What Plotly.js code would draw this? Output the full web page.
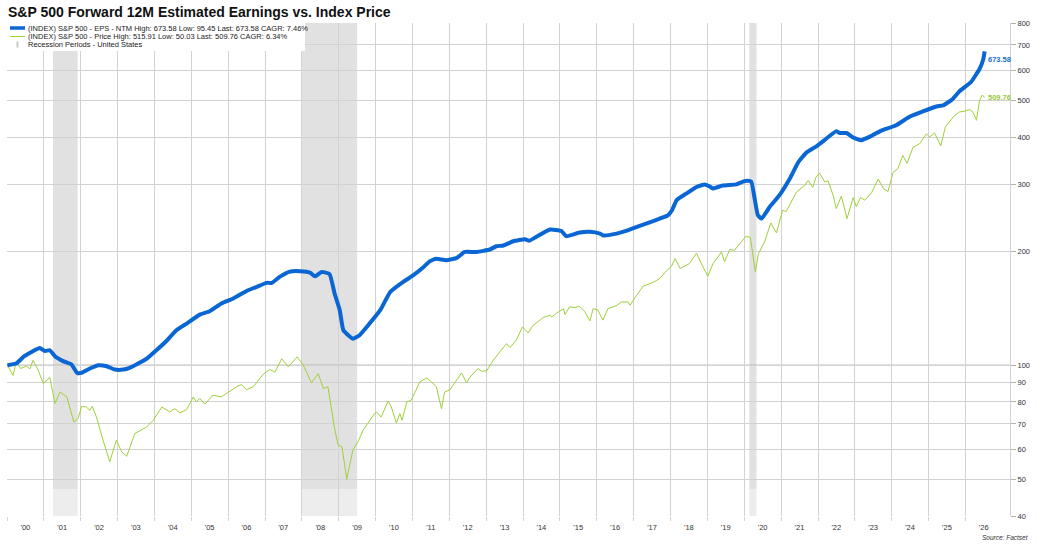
<!DOCTYPE html>
<html>
<head>
<meta charset="utf-8">
<script src="https://cdn.plot.ly/plotly-3.0.1.min.js"></script>
<style>html,body{margin:0;padding:0;background:#fff;}#chart{width:1038px;height:550px;}</style>
</head>
<body>
<div id="chart"></div>
<script>
// ---- Data (indexed to 100 at Jan 2000) ----
const epsDates = ['2000-01-05','2000-04-01','2000-06-20','2000-09-01','2000-11-20','2001-01-10','2001-03-01','2001-04-20','2001-07-10','2001-10-01','2001-11-25','2002-01-10','2002-04-01','2002-06-25','2002-09-15','2002-12-05','2003-02-25','2003-05-05','2003-07-10','2003-10-15','2004-01-20','2004-05-01','2004-08-05','2004-11-15','2005-03-25','2005-07-01','2005-10-25','2006-02-20','2006-07-01','2006-10-10','2007-01-15','2007-03-10','2007-05-25','2007-09-05','2007-12-15','2008-03-20','2008-05-10','2008-07-15','2008-10-01','2008-11-20','2009-01-10','2009-02-15','2009-05-20','2009-07-25','2009-11-01','2010-02-15','2010-05-25','2010-10-01','2011-01-10','2011-04-15','2011-06-20','2011-08-25','2011-12-01','2012-03-15','2012-06-01','2012-09-25','2013-02-05','2013-04-10','2013-06-20','2013-09-25','2014-01-20','2014-03-01','2014-05-10','2014-09-25','2015-01-15','2015-03-05','2015-07-15','2015-10-25','2016-02-01','2016-03-05','2016-07-15','2016-10-25','2017-02-01','2017-05-10','2017-09-15','2017-12-05','2018-01-15','2018-03-01','2018-06-05','2018-09-15','2018-12-05','2019-01-20','2019-02-25','2019-06-01','2019-10-15','2019-11-20','2020-01-25','2020-03-10','2020-04-10','2020-05-15','2020-06-20','2020-09-10','2020-12-15','2021-03-25','2021-06-20','2021-09-10','2021-12-15','2022-03-25','2022-07-01','2022-08-05','2022-10-10','2022-12-15','2023-03-05','2023-06-15','2023-09-20','2024-02-15','2024-06-25','2024-11-05','2025-03-20','2025-05-25','2025-08-30','2025-11-01','2026-02-25','2026-05-20','2026-06-25','2026-07-10'];
const epsValues = [100,101,105.6,108.4,111,109,109.5,105.6,102.5,100.4,95.45,95.5,98,100,99.4,97.4,97.4,98.6,100.6,104,109.5,116,123.7,128.8,136,138.8,145.5,150,157,161,164.9,165,171,176.6,177,175.5,171.6,176.3,174,154.6,139.7,123.7,117.5,120,128.8,139.7,156,165.9,172.8,181,188,191,189.3,192,199,199,202,206,207,212.4,215,213,218,228,226,219,224,225,222.5,220,222.5,226.6,231.8,236.6,243.7,248.7,256.5,272.6,283.7,295.4,300,296.6,292.7,298,300,303,306.6,305,278,248.7,243.7,262,281,310,343.6,364.5,378,396.5,414.7,410,410,398.8,392.5,403,416,430,452.4,467.6,481.8,484.8,505,528,559,605,640,673.58];

const priceDates = ['2000-01-05','2000-03-01','2000-04-01','2000-05-15','2000-07-10','2000-08-15','2000-09-15','2000-11-05','2000-12-25','2001-03-01','2001-04-20','2001-06-10','2001-08-15','2001-10-25','2001-12-05','2002-01-10','2002-02-25','2002-04-01','2002-04-25','2002-06-05','2002-08-10','2002-10-15','2002-12-20','2003-02-10','2003-04-01','2003-06-20','2003-10-15','2003-12-20','2004-03-15','2004-06-01','2004-07-20','2004-09-10','2004-11-15','2005-01-20','2005-02-20','2005-03-25','2005-05-15','2005-08-01','2005-10-25','2006-01-01','2006-03-25','2006-05-10','2006-07-01','2006-09-05','2006-12-15','2007-02-15','2007-04-10','2007-06-15','2007-08-20','2007-11-15','2008-01-15','2008-04-05','2008-06-10','2008-08-01','2008-09-15','2008-11-20','2008-12-25','2009-02-01','2009-03-20','2009-05-20','2009-07-10','2009-08-30','2009-11-01','2009-12-20','2010-01-10','2010-02-25','2010-05-05','2010-06-05','2010-07-25','2010-08-28','2010-09-20','2010-11-05','2010-12-20','2011-03-15','2011-05-25','2011-08-25','2011-10-15','2011-11-15','2012-01-05','2012-05-01','2012-06-20','2012-07-25','2012-10-10','2012-11-15','2013-01-05','2013-03-10','2013-05-15','2013-07-20','2013-08-25','2013-10-25','2013-12-25','2014-02-20','2014-04-10','2014-07-20','2014-09-25','2014-10-10','2014-11-25','2015-02-05','2015-02-20','2015-04-05','2015-05-25','2015-07-15','2015-09-01','2015-10-25','2015-11-25','2016-01-10','2016-03-01','2016-04-20','2016-07-10','2016-09-01','2016-11-05','2016-11-25','2017-01-30','2017-04-05','2017-07-15','2017-09-15','2017-11-20','2018-01-10','2018-02-15','2018-04-05','2018-07-05','2018-09-15','2018-11-05','2019-01-05','2019-02-25','2019-05-20','2019-06-20','2019-08-10','2019-09-25','2020-01-20','2020-03-01','2020-04-20','2020-05-20','2020-07-20','2020-09-20','2020-11-15','2021-01-15','2021-02-20','2021-06-01','2021-08-20','2021-09-25','2021-11-10','2021-12-10','2022-01-15','2022-03-10','2022-04-10','2022-05-30','2022-07-01','2022-08-20','2022-10-15','2022-12-15','2023-01-15','2023-02-25','2023-04-10','2023-06-15','2023-08-20','2023-10-10','2023-11-25','2024-01-15','2024-03-01','2024-04-20','2024-06-01','2024-07-30','2024-10-05','2024-12-10','2025-01-10','2025-03-01','2025-05-01','2025-06-15','2025-09-01','2025-11-01','2025-12-25','2026-02-10','2026-03-15','2026-04-20','2026-05-20','2026-06-15','2026-07-10'];
const priceValues = [100,94,102,98,99.4,97.8,103,97,89.5,92.8,79.2,85,82.5,70.8,72.3,77.9,77.6,76,77.9,73,63.4,55.6,63.4,59.1,57.5,66,68.7,71.6,77.6,75.3,76.8,74.8,76.4,82.5,80,81.7,78.9,83.3,82.5,85,87.7,88.9,86.2,87.7,94.7,97.4,96,104,99,105.2,100,89.8,95,86.8,87.7,68,61.5,60.9,50.03,59.7,62.8,67.4,71.6,74.5,75.3,73,80.5,77.6,70.4,74.5,71.6,80,80.9,90.4,92.6,87.7,76.8,85,86,95.4,89.8,93.1,98,96.4,96.6,103,108.4,114,111.3,116.4,126.2,121.7,127.5,133.6,135.5,134,137,141,136,142.5,142,143,138.8,130.9,141,140,131.5,141,143.5,146.9,146.9,144,153,161.6,165.6,169.3,177.4,182.4,191.3,180,185.3,197.6,184.6,171.7,185.3,199,187.5,202,201,219,217.3,176.3,196.8,211.5,237.4,223.5,256.5,254.4,286.5,298,307.6,294.7,312.6,321.6,304.3,306.6,281,259,279.5,243.7,276.8,262,276.8,272.6,285,310,292.7,287.4,323,330,357.6,341,375.6,384.5,408,400,410,379,425,452,466,468,473,466,443,500,515.91,509.76];

const recessionStarts = ['2001-04-01','2008-01-01','2020-02-20'];
const recessionEnds   = ['2001-12-01','2009-07-01','2020-05-01'];

const yearTickVals = ['2000-07-01','2001-07-01','2002-07-01','2003-07-01','2004-07-01','2005-07-01','2006-07-01','2007-07-01','2008-07-01','2009-07-01','2010-07-01','2011-07-01','2012-07-01','2013-07-01','2014-07-01','2015-07-01','2016-07-01','2017-07-01','2018-07-01','2019-07-01','2020-07-01','2021-07-01','2022-07-01','2023-07-01','2024-07-01','2025-07-01','2026-07-01'];
const yearTickText = ["'00","'01","'02","'03","'04","'05","'06","'07","'08","'09","'10","'11","'12","'13","'14","'15","'16","'17","'18","'19","'20","'21","'22","'23","'24","'25","'26"];
const yearBounds = ['2000-01-01','2001-01-01','2002-01-01','2003-01-01','2004-01-01','2005-01-01','2006-01-01','2007-01-01','2008-01-01','2009-01-01','2010-01-01','2011-01-01','2012-01-01','2013-01-01','2014-01-01','2015-01-01','2016-01-01','2017-01-01','2018-01-01','2019-01-01','2020-01-01','2021-01-01','2022-01-01','2023-01-01','2024-01-01','2025-01-01','2026-01-01'];
const yTickVals = [40,50,60,70,80,90,100,200,300,400,500,600,700,800];

const legendLabels = [
  '(INDEX) S&P 500 - EPS - NTM High: 673.58 Low: 95.45 Last: 673.58 CAGR: 7.46%',
  '(INDEX) S&P 500 - Price High: 515.91 Low: 50.03 Last: 509.76 CAGR: 6.34%',
  'Recession Periods - United States'
];

// ---- Layout helpers ----
const W = 1038, H = 550;
const M = {l: 7, r: 28, t: 23, b: 34};
const PW = W - M.l - M.r, PH = H - M.t - M.b;
const px = x => (x - M.l) / PW;
const py = y => (H - M.b - y) / PH;

const BLUE = '#0a66d2', GREEN = '#9fd03a';
const FONT = 'Arial, "Liberation Sans", sans-serif';

const shapes = [];
for (let i = 0; i < recessionStarts.length; i++) {
  shapes.push({type:'rect', layer:'below', xref:'x', yref:'paper', x0:recessionStarts[i], x1:recessionEnds[i], y0:py(489), y1:1, fillcolor:'#e1e1e1', line:{width:0}});
  shapes.push({type:'rect', layer:'below', xref:'x', yref:'paper', x0:recessionStarts[i], x1:recessionEnds[i], y0:0, y1:py(489), fillcolor:'#ededed', line:{width:0}});
}
// darker 100 reference line
shapes.push({type:'line', layer:'below', xref:'paper', yref:'y', x0:0, x1:1, y0:100, y1:100, line:{color:'#9a9a9a', width:1}});
// custom legend box and samples
shapes.push({type:'rect', xref:'paper', yref:'paper', x0:px(7), x1:px(305), y0:py(51), y1:py(23), fillcolor:'#ffffff', line:{width:0}});
shapes.push({type:'line', xref:'paper', yref:'paper', x0:px(10), x1:px(25), y0:py(28), y1:py(28), line:{color:BLUE, width:3.5}});
shapes.push({type:'line', xref:'paper', yref:'paper', x0:px(10), x1:px(25), y0:py(36.5), y1:py(36.5), line:{color:GREEN, width:1}});
shapes.push({type:'rect', xref:'paper', yref:'paper', x0:px(16.5), x1:px(18.5), y0:py(47.5), y1:py(41.5), fillcolor:'#c8c8c8', line:{width:0}});

const annotations = [];
const legendY = [28, 36.5, 45];
legendLabels.forEach((t, i) => {
  annotations.push({xref:'paper', yref:'paper', x:px(26), y:py(legendY[i]), xanchor:'left', yanchor:'middle', text:t, showarrow:false, font:{family:FONT, size:7.5, color:'#222'}});
});
annotations.push({xref:'x', yref:'y', x:epsDates[epsDates.length-1], y:Math.log10(epsValues[epsValues.length-1]), xanchor:'left', yanchor:'middle', xshift:1, yshift:-8, text:'<b>'+epsValues[epsValues.length-1].toFixed(2)+'</b>', showarrow:false, font:{family:FONT, size:7.5, color:'#1a6fd0'}});
annotations.push({xref:'x', yref:'y', x:priceDates[priceDates.length-1], y:Math.log10(priceValues[priceValues.length-1]), xanchor:'left', yanchor:'middle', xshift:1, yshift:0, text:'<b>'+priceValues[priceValues.length-1].toFixed(2)+'</b>', showarrow:false, font:{family:FONT, size:7.5, color:'#98c840'}});
annotations.push({xref:'paper', yref:'paper', x:px(1031), y:py(537), xanchor:'right', yanchor:'middle', text:'<i>Source: Factset</i>', showarrow:false, font:{family:FONT, size:6.5, color:'#333'}});

const traces = [
  {x: priceDates, y: priceValues, type:'scatter', mode:'lines', line:{color:GREEN, width:1}, hoverinfo:'skip'},
  {x: epsDates, y: epsValues, type:'scatter', mode:'lines', line:{color:BLUE, width:4, shape:'spline', smoothing:0.4}, hoverinfo:'skip'}
];

const layout = {
  width: W, height: H,
  margin: M,
  paper_bgcolor:'#ffffff', plot_bgcolor:'#ffffff',
  showlegend:false,
  title:{text:'<b>S&P 500 Forward 12M Estimated Earnings vs. Index Price</b>', xref:'container', yref:'container', x:8/W, xanchor:'left', y:1-12/H, yanchor:'middle', font:{family:FONT, size:14, color:'#111'}},
  xaxis:{
    type:'date', range:['2000-01-01','2027-03-18'],
    tickmode:'array', tickvals:yearTickVals, ticktext:yearTickText,
    showgrid:false, ticks:'outside', ticklen:4, tickcolor:'rgba(0,0,0,0)',
    tickfont:{family:FONT, size:7.5, color:'#333'},
    showline:false, zeroline:false,
    minor:{tickmode:'array', tickvals:yearBounds, showgrid:true, gridcolor:'#d2d2d2', gridwidth:1, ticks:'outside', ticklen:4, tickcolor:'#d2d2d2'}
  },
  yaxis:{
    type:'log', side:'right', range:[Math.log10(40), Math.log10(800)],
    tickmode:'array', tickvals:yTickVals, ticktext:yTickVals.map(String),
    showgrid:true, gridcolor:'#d2d2d2', gridwidth:1,
    ticks:'outside', ticklen:5, tickcolor:'#b0b0b0',
    tickfont:{family:FONT, size:7.5, color:'#333'},
    showline:true, linecolor:'#d2d2d2', zeroline:false
  },
  shapes: shapes,
  annotations: annotations
};

Plotly.newPlot('chart', traces, layout, {staticPlot:true, displayModeBar:false});
</script>
</body>
</html>
